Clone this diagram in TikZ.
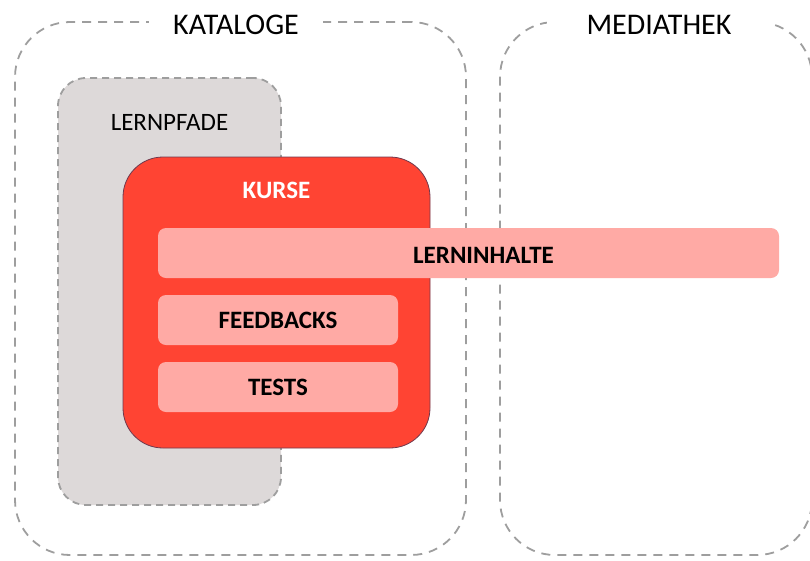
\documentclass[tikz,border=0pt]{standalone}
\usepackage{fontspec}
\setmainfont{Carlito}
\usetikzlibrary{positioning}

\definecolor{kursred}{RGB}{255,68,51}
\definecolor{inhaltpink}{RGB}{255,170,165}
\definecolor{pfadgray}{RGB}{221,217,217}
\definecolor{dashgray}{RGB}{158,158,158}
\definecolor{kursrand}{RGB}{112,58,78}

\begin{document}
\begin{tikzpicture}[x=1pt, y=-1pt,
      every node/.append style={align=center, inner sep=0pt, outer sep=0pt},
      bereich/.style={draw=dashgray, line width=1.8pt, dash pattern=on 9pt off 7pt,
                      rounded corners=55pt},
      titel/.style={fill=white, font=\fontsize{30}{36}\selectfont, inner ysep=4pt},
      pfad/.style={draw=dashgray, fill=pfadgray, line width=1.8pt,
                   dash pattern=on 7pt off 5pt, rounded corners=28pt},
      kurs/.style={draw=kursrand, fill=kursred, line width=0.8pt, rounded corners=40pt},
      inhalt/.style={fill=inhaltpink, rounded corners=8pt, minimum height=50pt,
                     font=\fontsize{25}{30}\selectfont\bfseries},
      fett/.style={font=\fontsize{25}{30}\selectfont\bfseries},
      beschriftung/.style={font=\fontsize{25}{30}\selectfont}]

     \useasboundingbox (0,0) rectangle (810,560);

     % grosse Bereiche
     \node [bereich, minimum width=451pt, minimum height=533pt] (kataloge)  at (240.5,288.5) {};
     \node [bereich, minimum width=312pt, minimum height=533pt] (mediathek) at (656,288.5) {};

     % Lernpfade und Kurse
     \node [pfad, minimum width=223pt, minimum height=427pt] (lernpfade) at (169.5,291.5) {};
     \node [kurs, minimum width=307pt, minimum height=291pt] (kurse) at (276.5,302.5) {};

     \node [inhalt, minimum width=621pt] (lerninhalte) at (468.5,253) {};
     \node [inhalt, minimum width=240pt] (feedbacks)   at (278,320) {FEEDBACKS};
     \node [inhalt, minimum width=240pt] (tests)       at (278,387) {TESTS};

     % Beschriftungen
     \node [fett] (lerninhaltetext) at ([xshift=15pt, yshift=-2pt]lerninhalte.center) {LERNINHALTE};
     \node [beschriftung] (lernpfadetext) at ([yshift=-44pt]lernpfade.north) {LERNPFADE};
     \node [fett, text=white] (kursetext) at ([yshift=-33pt]kurse.north) {KURSE};

     \node [titel, inner xsep=24pt] (katalogetitel)  at (236,25) {KATALOGE};
     \node [titel, inner xsep=40pt] (mediathektitel) at (659,25) {MEDIATHEK};
  \end{tikzpicture}
\end{document}
